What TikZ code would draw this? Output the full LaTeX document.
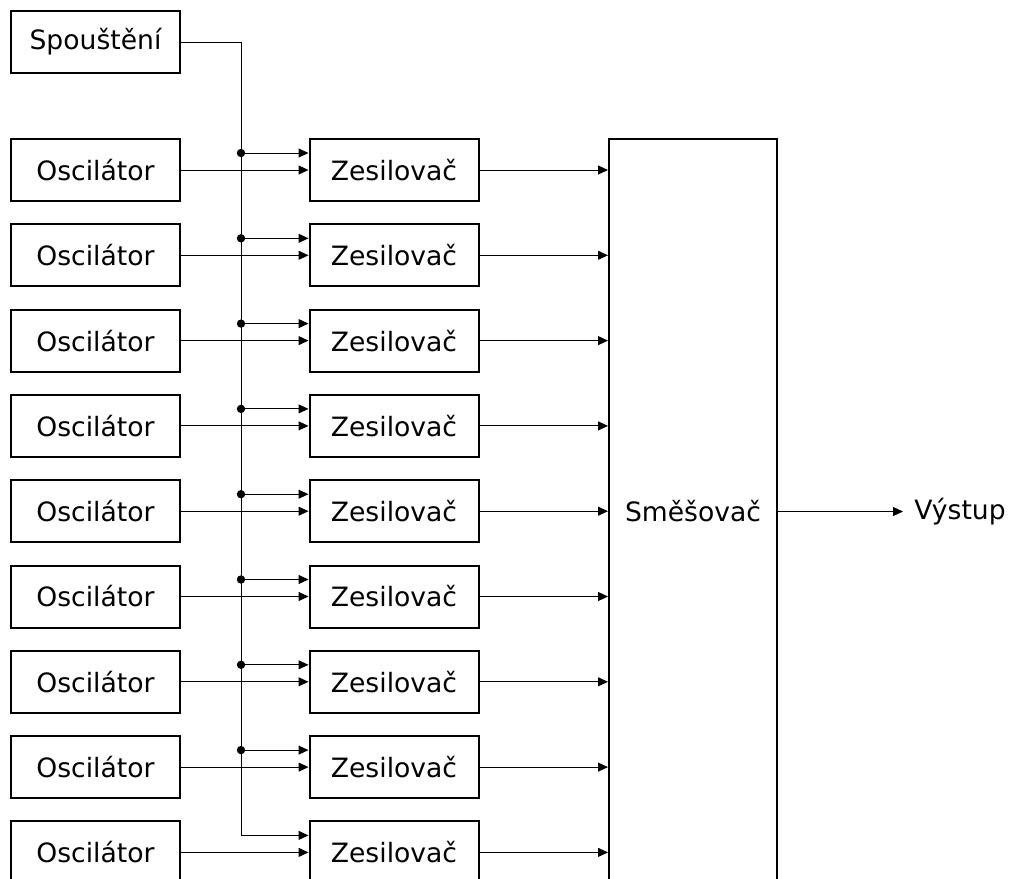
\documentclass[tikz,border=0pt]{standalone}
\usepackage{fontspec}
\setmainfont{DejaVu Sans}
\usetikzlibrary{arrows.meta}
\begin{document}
\begin{tikzpicture}[x=0.5pt,y=-0.5pt,
  every node/.style={font=\fontsize{13.3}{16}\selectfont},
  blok/.style={draw,line width=1pt,minimum width=84.5pt,minimum height=31pt,inner sep=0pt},
  spoj/.style={line width=0.5pt,-{Triangle[length=5pt,width=4.5pt]}},
  uzel/.style={circle,fill,inner sep=0pt,minimum size=4.2pt}]
\useasboundingbox (0,0) rectangle (1013,879);
\node[blok] (spust) at (95.5,42) {Spouštění};
\node[blok,minimum width=84pt,minimum height=373pt] (mix) at (693,511.5) {Směšovač};
\node[anchor=west,inner xsep=5.5pt,inner ysep=0pt] (vystup) at (903,511.5) {Výstup};
\coordinate (vetev) at (241,42);
\foreach \i in {1,...,9}{
  \node[blok] (osc\i) at (95.5,{170+85.3*(\i-1)}) {Oscilátor};
  \node[blok] (zes\i) at (394,{170+85.3*(\i-1)}) {Zesilovač};
  \coordinate (t\i) at ([yshift=8.5pt]zes\i.west);
  \draw[spoj] (osc\i.east) -- (zes\i.west);
  \draw[spoj] (zes\i.east) -- (zes\i.east -| mix.west);
  \draw[spoj] (t\i -| vetev) -- (t\i);
}
% spousteci vedeni
\draw[line width=0.5pt] (spust.east) -- (vetev) -- (t9 -| vetev);
\foreach \i in {1,...,8}
  \node[uzel] (u\i) at (t\i -| vetev) {};
\draw[spoj] (mix.east) -- (vystup.west);
\end{tikzpicture}
\end{document}
